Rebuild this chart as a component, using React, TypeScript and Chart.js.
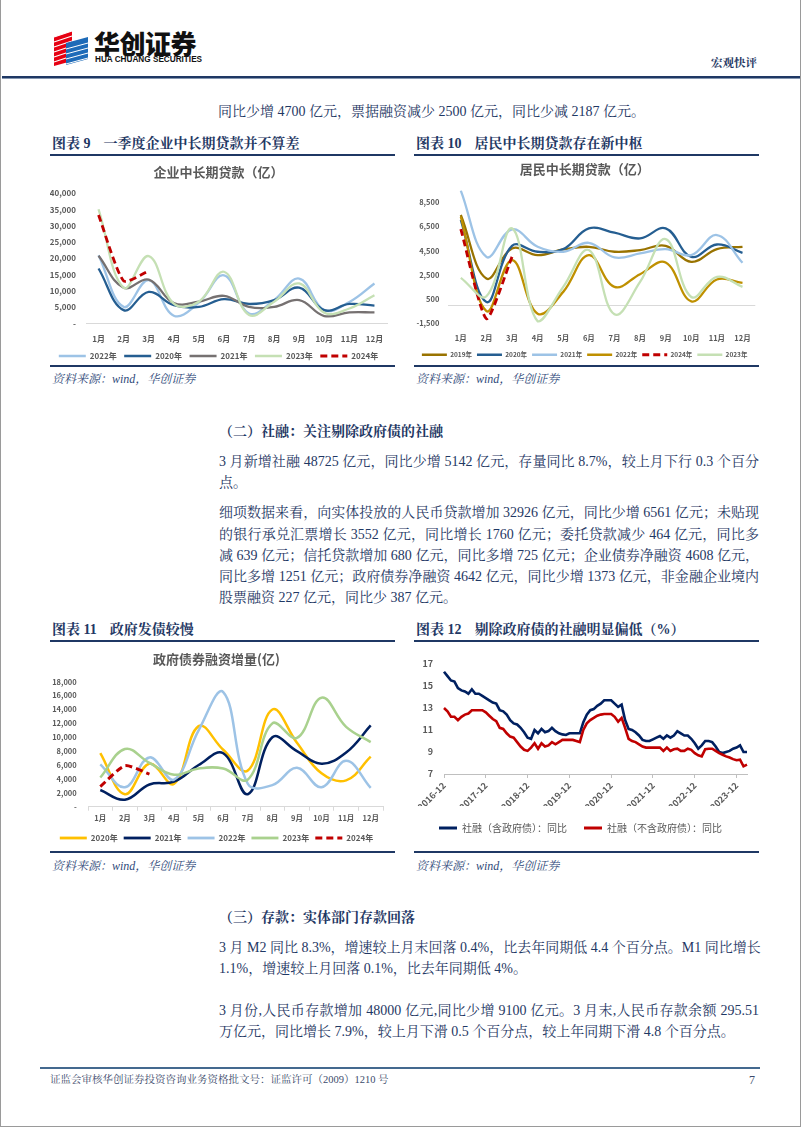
import React, { useEffect, useRef } from 'react';
import { Chart, registerables } from 'chart.js';

Chart.register(...registerables);

// ---------------- DATA ----------------
const MONTHS = ['1月', '2月', '3月', '4月', '5月', '6月', '7月', '8月', '9月', '10月', '11月', '12月'];

// Chart 9: 企业中长期贷款（亿）
const CORP_2022 = [21000, 5100, 13300, 2400, 6400, 14800, 3100, 7200, 13800, 4100, 6600, 12300];
const CORP_2020 = [16900, 4100, 9700, 5600, 5100, 7500, 6000, 7200, 11000, 4100, 6000, 5500];
const CORP_2021 = [20800, 11000, 13500, 6300, 6700, 8500, 5100, 5100, 7200, 2300, 3400, 3400];
const CORP_2023 = [35100, 11000, 20700, 6100, 6700, 15900, 2600, 6700, 12300, 3300, 4600, 8700];
const CORP_2024 = [33300, 13100, 16100];
const CORP_Y_TICKS = [0, 5000, 10000, 15000, 20000, 25000, 30000, 35000, 40000];

// Chart 10: 居民中长期贷款（亿）
const HH_2019 = [7450, 2210, 4690, 4140, 4610, 4830, 4420, 4560, 4910, 3590, 4640, 4830];
const HH_2020 = [7040, 280, 4910, 4420, 4640, 6350, 5990, 5520, 6350, 4000, 5020, 4330];
const HH_2021 = [9470, 4000, 6270, 4830, 4420, 5160, 3950, 4280, 4640, 4140, 5800, 3510];
const HH_2022 = [7310, -470, 3730, -690, 1110, 4140, 1520, 2570, 3530, 330, 2130, 1850];
const HH_2024 = [6290, -1100, 4000];
const HH_2023 = [2270, 750, 6350, -1320, 1520, 4560, -740, 1930, 5470, 690, 2350, 1520];
const HH_Y_TICKS = [-1500, 500, 2500, 4500, 6500, 8500];

// Chart 11: 政府债券融资增量(亿)
const GOV_2020 = [7700, 1800, 6200, 3300, 11600, 8200, 5200, 14000, 9200, 4800, 3800, 7200];
const GOV_2021 = [2400, 1000, 3200, 3600, 6000, 7700, 1800, 10000, 8000, 6200, 7800, 11700];
const GOV_2022 = [6100, 2800, 7100, 3900, 11000, 16500, 3300, 3100, 5600, 2800, 6600, 2700];
const GOV_2023 = [4200, 8300, 6300, 4600, 5500, 5500, 3900, 12000, 9900, 15700, 11500, 9300];
const GOV_2024 = [2900, 5900, 4700];
const GOV_Y_TICKS = [0, 2000, 4000, 6000, 8000, 10000, 12000, 14000, 16000, 18000];

// Chart 12: 社融存量同比（%）, monthly 2016-12 .. 2024-03
const TSF_START_YEAR = 2016;
const TSF_START_MONTH = 12;
const TSF_WITH_GOV = [
  16.3, 15.9, 15.5, 15.4, 14.8, 14.6, 14.5, 14.3, 14.7, 14.3, 14.3, 14.1,
  13.9, 13.7, 13.5, 13.4, 12.8, 12.7, 12.4, 11.9, 11.6, 11.5, 11.2, 10.8,
  10.3, 10.2, 11.0, 10.7, 11.1, 10.8, 10.9, 11.2, 10.9, 10.7, 10.6, 10.55,
  10.7, 10.7, 10.7, 10.7, 11.7, 12.4, 12.8, 12.9, 13.2, 13.4, 13.7, 13.7,
  13.7, 13.4, 13.1, 13.3, 11.9, 11.1, 11.0, 10.8, 10.5, 10.1, 10.0, 10.0,
  10.15, 10.3, 10.45, 10.2, 10.5, 10.3, 10.5, 10.9, 10.7, 10.5, 10.5, 10.2,
  9.8, 9.3, 9.6, 10.0, 10.0, 9.9, 9.5, 9.0, 8.9, 9.0, 9.1, 9.3,
  9.4, 9.6, 9.0, 9.0,
];
const TSF_EX_GOV = [
  13.0, 12.7, 12.2, 12.2, 11.9, 12.2, 12.4, 12.5, 12.8, 12.8, 12.8, 12.8,
  12.6, 12.3, 12.0, 11.8, 11.2, 11.1, 10.7, 10.4, 10.3, 9.9, 9.5, 9.2,
  9.1, 9.4, 9.8, 9.3, 9.8, 9.5, 9.6, 9.9, 9.7, 9.9, 10.1, 10.1,
  10.1, 10.1, 10.0, 9.9, 11.0, 11.6, 11.9, 12.1, 12.3, 12.4, 12.45, 12.45,
  12.45, 12.2, 11.75, 12.1, 11.2, 10.2, 10.0, 9.9, 9.7, 9.5, 9.4, 9.4,
  9.4, 9.4, 9.4, 9.1, 9.4, 9.1, 9.25, 9.3, 9.1, 9.1, 9.3, 9.2,
  8.9, 8.7, 8.6, 9.25, 9.3, 9.3, 9.1, 8.9, 8.75, 8.6, 8.5, 8.35,
  8.25, 8.3, 7.7, 7.85,
];
const TSF_X_TICKS = ['2016-12', '2017-12', '2018-12', '2019-12', '2020-12', '2021-12', '2022-12', '2023-12'];
const TSF_Y_TICKS = [7, 9, 11, 13, 15, 17];

const TSF_LABELS: string[] = (() => {
  const out: string[] = [];
  let y = TSF_START_YEAR;
  let m = TSF_START_MONTH;
  for (let i = 0; i < TSF_WITH_GOV.length; i++) {
    out.push(`${y}-${m < 10 ? '0' + m : m}`);
    m++;
    if (m > 12) { m = 1; y++; }
  }
  return out;
})();

// ---------------- STYLE ----------------
const CFONT = '"Noto Sans CJK SC", "Microsoft YaHei", sans-serif';
const TFONT = '"Liberation Serif", "Noto Serif CJK SC", "Noto Sans CJK SC", serif';
const GRAY = '#595959';
const NAVY = '#1F3864';
const TEXT = '#1F3864';

type Series = { label: string; data: number[]; color: string; dashed?: boolean };

type YearOpts = {
  title: string;
  series: Series[];
  yMin: number;
  yMax: number;
  yTicks: number[];
  titleTop: number;
  titleBottom: number;
  yWidth: number;
  yPad: number;
  xHeight: number;
  xPad: number;
  padRight: number;
  tickFont: number;
  legendFont: number;
  legendPad: number;
  legendBox: number;
  lineWidth: number;
  xTickMarks?: boolean;
  zeroLine?: boolean;
};

const zeroLinePlugin = {
  id: 'zeroLine',
  beforeDatasetsDraw(chart: any) {
    const y = Math.round(chart.scales.y.getPixelForValue(0)) + 0.5;
    const { left, right } = chart.chartArea;
    const ctx = chart.ctx;
    ctx.save();
    ctx.strokeStyle = '#d9d9d9';
    ctx.lineWidth = 1;
    ctx.beginPath();
    ctx.moveTo(left, y);
    ctx.lineTo(right, y);
    ctx.stroke();
    ctx.restore();
  },
};

function fmtThousands(v: number) {
  if (v === 0) return '-';
  const s = Math.abs(v).toString().replace(/\B(?=(\d{3})+(?!\d))/g, ',');
  return (v < 0 ? '-' : '') + s;
}

// legend items drawn as short line segments carrying the dataset's own dash
function lineLegendLabels(chart: any) {
  const items = (Chart as any).defaults.plugins.legend.labels.generateLabels(chart);
  items.forEach((it: any) => {
    const ds = chart.data.datasets[it.datasetIndex];
    it.lineDash = ds.borderDash || [];
    it.strokeStyle = ds.borderColor;
    it.fillStyle = ds.borderColor;
    it.lineWidth = ds.legendWidth || ds.borderWidth;
    it.lineCap = 'butt';
    it.pointStyle = 'line';
  });
  return items;
}

function yearConfig(o: YearOpts): any {
  const n = o.series.length;
  return {
    type: 'line',
    data: {
      labels: MONTHS,
      datasets: o.series.map((s, i) => ({
        label: s.label,
        data: s.data,
        borderColor: s.color,
        backgroundColor: s.color,
        borderWidth: s.dashed ? o.lineWidth + 0.5 : o.lineWidth,
        legendWidth: s.dashed ? 3 : o.lineWidth + 0.3,
        borderDash: s.dashed ? [7, 4] : [],
        tension: s.dashed ? 0.2 : 0.4,
        pointRadius: 0,
        pointHoverRadius: 0,
        fill: false,
        order: n - i,
      })),
    },
    options: {
      responsive: false,
      animation: false,
      devicePixelRatio: 1,
      layout: { padding: { top: 0, right: o.padRight, bottom: 0, left: 0 } },
      plugins: {
        tooltip: { enabled: false },
        title: {
          display: true,
          text: o.title,
          color: GRAY,
          font: { size: 13, weight: 'bold', family: CFONT },
          padding: { top: o.titleTop, bottom: o.titleBottom },
        },
        legend: {
          display: true,
          position: 'bottom',
          labels: {
            usePointStyle: true,
            pointStyle: 'line',
            pointStyleWidth: o.legendBox,
            color: GRAY,
            padding: o.legendPad,
            font: { size: o.legendFont, weight: 'bold', family: CFONT },
            generateLabels: lineLegendLabels,
            sort: (a: any, b: any) => a.datasetIndex - b.datasetIndex,
          },
        },
      },
      scales: {
        x: {
          type: 'category',
          offset: true,
          grid: {
            display: !!o.xTickMarks,
            drawOnChartArea: false,
            drawTicks: true,
            tickLength: 4,
            offset: true,
            color: '#d9d9d9',
          },
          border: { display: !o.zeroLine, color: '#d9d9d9', width: 1 },
          ticks: {
            autoSkip: false,
            maxRotation: 0,
            minRotation: 0,
            padding: o.xPad,
            color: GRAY,
            font: { size: o.tickFont, weight: 'bold', family: CFONT },
          },
          afterFit: (s: any) => { s.height = o.xHeight; },
        },
        y: {
          type: 'linear',
          min: o.yMin,
          max: o.yMax,
          grid: { display: false, drawTicks: false },
          border: { display: false },
          ticks: {
            padding: o.yPad,
            color: GRAY,
            font: { size: o.tickFont, weight: 'bold', family: CFONT },
            callback: (v: any) => fmtThousands(Number(v)),
          },
          afterBuildTicks: (s: any) => { s.ticks = o.yTicks.map((v) => ({ value: v })); },
          afterFit: (s: any) => { s.width = o.yWidth; },
        },
      },
    },
    plugins: o.zeroLine ? [zeroLinePlugin] : [],
  };
}

function tsfConfig(): any {
  return {
    type: 'line',
    data: {
      labels: TSF_LABELS,
      datasets: [
        {
          label: '社融（含政府债）：同比',
          data: TSF_WITH_GOV,
          borderColor: '#002060',
          backgroundColor: '#002060',
          borderWidth: 2.6,
          legendWidth: 3,
          pointRadius: 0,
          tension: 0,
          order: 2,
        },
        {
          label: '社融（不含政府债）：同比',
          data: TSF_EX_GOV,
          borderColor: '#C00000',
          backgroundColor: '#C00000',
          borderWidth: 2.6,
          legendWidth: 3,
          pointRadius: 0,
          tension: 0,
          order: 1,
        },
      ],
    },
    options: {
      responsive: false,
      animation: false,
      devicePixelRatio: 1,
      layout: { padding: { top: 21, right: 12, bottom: 0, left: 0 } },
      plugins: {
        tooltip: { enabled: false },
        title: { display: false },
        legend: {
          display: true,
          position: 'bottom',
          labels: {
            usePointStyle: true,
            pointStyle: 'line',
            pointStyleWidth: 18,
            color: GRAY,
            padding: 17,
            font: { size: 10, family: CFONT },
            generateLabels: lineLegendLabels,
            sort: (a: any, b: any) => a.datasetIndex - b.datasetIndex,
          },
        },
      },
      scales: {
        x: {
          type: 'category',
          offset: false,
          grid: { display: true, drawOnChartArea: false, drawTicks: true, tickLength: 4, color: '#bfbfbf' },
          border: { display: true, color: '#bfbfbf', width: 1 },
          ticks: {
            autoSkip: false,
            minRotation: 45,
            maxRotation: 45,
            padding: 2,
            color: GRAY,
            font: { size: 9, weight: 'bold', family: CFONT },
          },
          afterBuildTicks: (s: any) => {
            s.ticks = TSF_X_TICKS.map((l) => ({ value: TSF_LABELS.indexOf(l) })).filter((t) => t.value >= 0);
          },
          afterFit: (s: any) => { s.height = 32; },
        },
        y: {
          type: 'linear',
          min: 7,
          max: 17,
          grid: { display: false, drawTicks: false },
          border: { display: false },
          ticks: {
            padding: 11,
            color: GRAY,
            font: { size: 9, weight: 'bold', family: CFONT },
          },
          afterBuildTicks: (s: any) => { s.ticks = TSF_Y_TICKS.map((v) => ({ value: v })); },
          afterFit: (s: any) => { s.width = 30; },
        },
      },
    },
  };
}

function ChartBox({ left, top, width, height, make }: { left: number; top: number; width: number; height: number; make: () => any }) {
  const ref = useRef<HTMLCanvasElement>(null);
  useEffect(() => {
    const chart = new Chart(ref.current as HTMLCanvasElement, make());
    return () => chart.destroy();
  }, []);
  return (
    <canvas
      ref={ref}
      width={width}
      height={height}
      style={{ position: 'absolute', left, top, width, height }}
    />
  );
}

// ---------------- PAGE PIECES ----------------
function Rule({ x1, x2, y, h = 2, color = NAVY }: { x1: number; x2: number; y: number; h?: number; color?: string }) {
  return <div style={{ position: 'absolute', left: x1, top: y, width: x2 - x1, height: h, background: color }} />;
}

function Line({ y, text, justify = false, bold = false, left = 219 }: { y: number; text: string; justify?: boolean; bold?: boolean; left?: number }) {
  return (
    <div
      style={{
        position: 'absolute',
        left,
        top: y - 10,
        width: 540,
        height: 20,
        lineHeight: '20px',
        fontSize: 14,
        fontFamily: TFONT,
        fontWeight: bold ? 'bold' : 'normal',
        color: TEXT,
        whiteSpace: 'nowrap',
        textAlign: justify ? 'justify' : 'left',
        textAlignLast: justify ? 'justify' : 'left',
      } as any}
    >
      {text}
    </div>
  );
}

function FigTitle({ x, y, num, text }: { x: number; y: number; num: string; text: string }) {
  return (
    <div
      style={{
        position: 'absolute',
        left: x,
        top: y - 10,
        height: 20,
        lineHeight: '20px',
        fontSize: 14,
        fontFamily: TFONT,
        fontWeight: 'bold',
        color: NAVY,
        whiteSpace: 'nowrap',
      }}
    >
      <span>图表 {num}</span>
      <span style={{ marginLeft: 13 }}>{text}</span>
    </div>
  );
}

function Source({ x, y }: { x: number; y: number }) {
  return (
    <div
      style={{
        position: 'absolute',
        left: x,
        top: y - 8,
        height: 16,
        lineHeight: '16px',
        fontSize: 12,
        fontFamily: TFONT,
        fontStyle: 'italic',
        color: '#2F4A7A',
        whiteSpace: 'nowrap',
      }}
    >
      资料来源：wind，华创证券
    </div>
  );
}

function Logo() {
  return (
    <svg style={{ position: 'absolute', left: 52, top: 29 }} width={38} height={38} viewBox="0 0 38 38">
      <polygon points="2,8 20,2 20,32 2,37" fill="#E60012" />
      {[6, 11, 16, 21, 26, 31].map((y, i) => (
        <line key={i} x1={2} y1={y + 2} x2={20} y2={y - 4} stroke="#fff" strokeWidth={1.1} />
      ))}
      <polygon points="14,14 36,8 36,30 14,36" fill="#1E6BB8" />
      {[14, 19, 24, 29].map((y, i) => (
        <line key={'b' + i} x1={14} y1={y + 6} x2={36} y2={y} stroke="#fff" strokeWidth={1} />
      ))}
    </svg>
  );
}

export default function App() {
  const c9 = () =>
    yearConfig({
      title: '企业中长期贷款（亿）',
      series: [
        { label: '2022年', data: CORP_2022, color: '#9DC3E6' },
        { label: '2020年', data: CORP_2020, color: '#255E91' },
        { label: '2021年', data: CORP_2021, color: '#767171' },
        { label: '2023年', data: CORP_2023, color: '#C5E0B4' },
        { label: '2024年', data: CORP_2024, color: '#C00000', dashed: true },
      ],
      yMin: 0,
      yMax: 40000,
      yTicks: CORP_Y_TICKS,
      titleTop: 7,
      titleBottom: 13.7,
      yWidth: 36,
      yPad: 10,
      xHeight: 21,
      xPad: 7,
      padRight: 8,
      tickFont: 8,
      legendFont: 8,
      legendPad: 7.5,
      legendBox: 27,
      lineWidth: 2.3,
    });

  const c10 = () =>
    yearConfig({
      title: '居民中长期贷款（亿）',
      series: [
        { label: '2019年', data: HH_2019, color: '#997300' },
        { label: '2020年', data: HH_2020, color: '#255E91' },
        { label: '2021年', data: HH_2021, color: '#9DC3E6' },
        { label: '2022年', data: HH_2022, color: '#BF9000' },
        { label: '2024年', data: HH_2024, color: '#C00000', dashed: true },
        { label: '2023年', data: HH_2023, color: '#C5E0B4' },
      ],
      yMin: -1500,
      yMax: 9500,
      yTicks: HH_Y_TICKS,
      titleTop: 4.5,
      titleBottom: 13.1,
      yWidth: 34,
      yPad: 8.7,
      xHeight: 23,
      xPad: 6.5,
      padRight: 3.7,
      tickFont: 7.5,
      legendFont: 6.5,
      legendPad: 5,
      legendBox: 25,
      lineWidth: 2.3,
      zeroLine: true,
    });

  const c11 = () =>
    yearConfig({
      title: '政府债券融资增量(亿)',
      series: [
        { label: '2020年', data: GOV_2020, color: '#FFC000' },
        { label: '2021年', data: GOV_2021, color: '#002060' },
        { label: '2022年', data: GOV_2022, color: '#9DC3E6' },
        { label: '2023年', data: GOV_2023, color: '#A9D18E' },
        { label: '2024年', data: GOV_2024, color: '#C00000', dashed: true },
      ],
      yMin: 0,
      yMax: 18000,
      yTicks: GOV_Y_TICKS,
      titleTop: 8.5,
      titleBottom: 14.6,
      yWidth: 38,
      yPad: 11.3,
      xHeight: 21.3,
      xPad: 2.5,
      padRight: 12,
      tickFont: 7.5,
      legendFont: 8,
      legendPad: 6,
      legendBox: 27,
      lineWidth: 2.5,
      xTickMarks: true,
    });

  return (
    <div style={{ position: 'absolute', left: 0, top: 0, width: 802, height: 1133, background: '#fff', overflow: 'hidden' }}>
      {/* page frame */}
      <div style={{ position: 'absolute', left: 0, top: 0, width: 1, height: 1127, background: '#9a9a9a' }} />
      <div style={{ position: 'absolute', left: 800, top: 0, width: 1, height: 1127, background: '#9a9a9a' }} />
      <div style={{ position: 'absolute', left: 0, top: 1126, width: 801, height: 1, background: '#9a9a9a' }} />

      {/* header */}
      <Logo />
      <div style={{ position: 'absolute', left: 94, top: 28, fontSize: 26, lineHeight: '30px', fontWeight: 900, fontFamily: CFONT, color: '#111', letterSpacing: -0.5, whiteSpace: 'nowrap' }}>
        华创证券
      </div>
      <div style={{ position: 'absolute', left: 95, top: 55, fontSize: 8.2, lineHeight: '10px', fontWeight: 'bold', fontFamily: '"Liberation Sans Narrow", "Liberation Sans", sans-serif', color: '#111', whiteSpace: 'nowrap' }}>
        HUA CHUANG SECURITIES
      </div>
      <div style={{ position: 'absolute', left: 711, top: 55, fontSize: 11.5, lineHeight: '16px', fontWeight: 'bold', fontFamily: TFONT, color: NAVY, whiteSpace: 'nowrap' }}>
        宏观快评
      </div>
      <Rule x1={2} x2={800} y={76} h={2} color={NAVY} />
      <Rule x1={2} x2={800} y={78} h={1} color="#8496b0" />

      <Line y={112} text="同比少增 4700 亿元，票据融资减少 2500 亿元，同比少减 2187 亿元。" left={218} />

      {/* figure row 1 */}
      <FigTitle x={52} y={144} num="9" text="一季度企业中长期贷款并不算差" />
      <FigTitle x={416} y={144} num="10" text="居民中长期贷款存在新中枢" />
      <Rule x1={50} x2={395} y={154} />
      <Rule x1={414} x2={759} y={154} />
      <ChartBox left={50} top={157} width={345} height={213} make={c9} />
      <ChartBox left={414} top={157} width={345} height={211} make={c10} />
      <Rule x1={50} x2={395} y={365} />
      <Rule x1={414} x2={759} y={365} />
      <Source x={52} y={379} />
      <Source x={416} y={379} />

      {/* section 2 */}
      <Line y={432} text="（二）社融：关注剔除政府债的社融" bold />
      <Line y={462} text="3 月新增社融 48725 亿元，同比少增 5142 亿元，存量同比 8.7%，较上月下行 0.3 个百分" justify />
      <Line y={483} text="点。" />
      <Line y={513} text="细项数据来看，向实体投放的人民币贷款增加 32926 亿元，同比少增 6561 亿元；未贴现" justify />
      <Line y={535} text="的银行承兑汇票增长 3552 亿元，同比增长 1760 亿元；委托贷款减少 464 亿元，同比多" justify />
      <Line y={556} text="减 639 亿元；信托贷款增加 680 亿元，同比多增 725 亿元；企业债券净融资 4608 亿元，" justify />
      <Line y={577} text="同比多增 1251 亿元；政府债券净融资 4642 亿元，同比少增 1373 亿元，非金融企业境内" justify />
      <Line y={598} text="股票融资 227 亿元，同比少 387 亿元。" />

      {/* figure row 2 */}
      <FigTitle x={52} y={630} num="11" text="政府发债较慢" />
      <FigTitle x={416} y={630} num="12" text="剔除政府债的社融明显偏低（%）" />
      <Rule x1={50} x2={395} y={640} />
      <Rule x1={414} x2={759} y={640} />
      <ChartBox left={50} top={643} width={345} height={209} make={c11} />
      <ChartBox left={414} top={643} width={345} height={200} make={tsfConfig} />
      <Rule x1={50} x2={395} y={851} />
      <Rule x1={414} x2={759} y={851} />
      <Source x={52} y={866} />
      <Source x={416} y={866} />

      {/* section 3 */}
      <Line y={918} text="（三）存款：实体部门存款回落" bold />
      <Line y={948} text="3 月 M2 同比 8.3%，增速较上月末回落 0.4%，比去年同期低 4.4 个百分点。M1 同比增长" justify />
      <Line y={969} text="1.1%，增速较上月回落 0.1%，比去年同期低 4%。" />
      <Line y={1011} text="3 月份,人民币存款增加 48000 亿元,同比少增 9100 亿元。3 月末,人民币存款余额 295.51" justify />
      <Line y={1032} text="万亿元，同比增长 7.9%，较上月下滑 0.5 个百分点，较上年同期下滑 4.8 个百分点。" />

      {/* footer */}
      <Rule x1={40} x2={760} y={1067} h={2} color="#44698F" />
      <div style={{ position: 'absolute', left: 50, top: 1073, fontSize: 10.5, lineHeight: '14px', fontFamily: TFONT, color: '#3B4A6B', whiteSpace: 'nowrap' }}>
        证监会审核华创证券投资咨询业务资格批文号：证监许可（2009）1210 号
      </div>
      <div style={{ position: 'absolute', left: 749, top: 1072, fontSize: 12, lineHeight: '16px', fontFamily: TFONT, color: '#3B4A6B' }}>7</div>
    </div>
  );
}
